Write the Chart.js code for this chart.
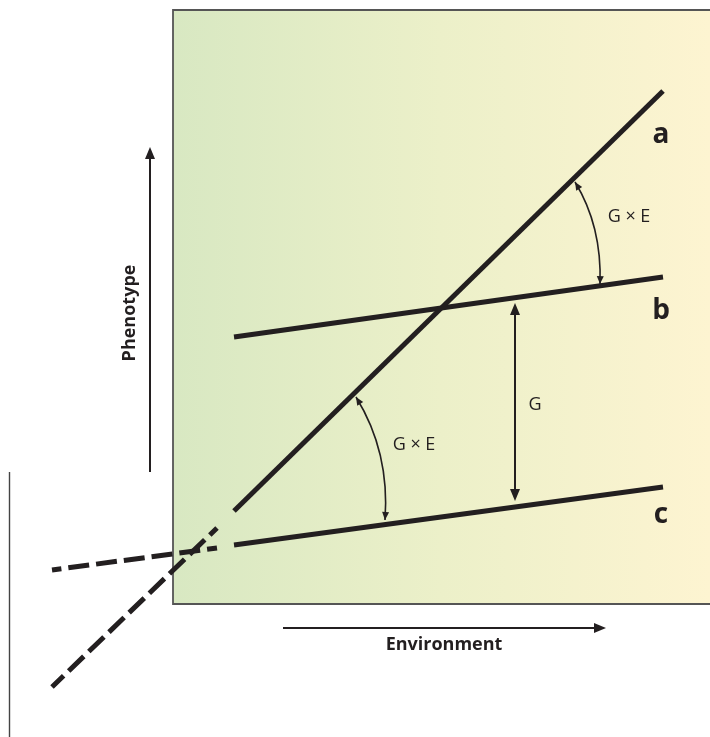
<!DOCTYPE html>
<html>
<head>
<meta charset="utf-8">
<script src="https://cdn.jsdelivr.net/npm/chart.js@4.4.1/dist/chart.umd.min.js"></script>
<style>
  html, body { margin: 0; padding: 0; background: #fff; }
  canvas { display: block; }
</style>
</head>
<body>
<canvas id="gxe" width="710" height="737"></canvas>
<script>
// Reaction norms: environment (x) vs phenotype (y)
const genotypes     = ['a', 'b', 'c'];
const envObserved   = [23.4, 66.3];
const phenoA        = [22.6, 64.6];
const phenoB        = [40.0, 46.0];
const phenoC        = [19.2, 25.0];
// dashed extrapolation outside the observed range (inner end first)
const envExtrap     = [21.7, 5.2];
const phenoAExtrap  = [20.9, 5.0];
const phenoCExtrap  = [18.9, 16.7];

const INK = '#231f20';

function pts(xs, ys) { return xs.map((x, i) => ({ x, y: ys[i] })); }

function lineSet(data, dashed) {
    return {
        data, showLine: true, borderColor: INK, borderWidth: 5,
        borderDash: dashed ? [21, 7] : [], borderDashOffset: dashed ? 11 : 0,
        borderCapStyle: 'butt',
        pointRadius: 0, pointHoverRadius: 0, clip: false, tension: 0
    };
}

// ── background box, arrows, arcs and text ─────────────────────────────
const figurePlugin = {
    id: 'figure',
    beforeDatasetsDraw(chart) {
        const { ctx, scales: { x, y } } = chart;
        const X = v => x.getPixelForValue(v), Y = v => y.getPixelForValue(v);
        const l = X(17.3), r = X(71.2), t = Y(72.7), b = Y(13.3);
        const g = ctx.createLinearGradient(l, 0, X(71), 0);
        g.addColorStop(0, '#d8e8c2');
        g.addColorStop(0.5, '#ecf0c9');
        g.addColorStop(1, '#fdf4d1');
        ctx.save();
        ctx.fillStyle = g;
        ctx.fillRect(l, t, r - l, b - t);
        ctx.strokeStyle = '#555';
        ctx.lineWidth = 1.8;
        ctx.beginPath();
        ctx.moveTo(r, t); ctx.lineTo(l, t); ctx.lineTo(l, b); ctx.lineTo(r, b);
        ctx.stroke();
        // thin rule on the far left
        ctx.strokeStyle = '#444';
        ctx.lineWidth = 1.4;
        ctx.beginPath();
        ctx.moveTo(X(0.95), Y(26.5)); ctx.lineTo(X(0.95), Y(0));
        ctx.stroke();
        ctx.restore();
    },
    afterDatasetsDraw(chart) {
        const { ctx, scales: { x, y } } = chart;
        const P = (a, c) => [x.getPixelForValue(a), y.getPixelForValue(c)];

        function head(tip, from, len, half) {
            const ang = Math.atan2(tip[1] - from[1], tip[0] - from[0]);
            ctx.beginPath();
            ctx.moveTo(tip[0], tip[1]);
            ctx.lineTo(tip[0] - len * Math.cos(ang) + half * Math.sin(ang), tip[1] - len * Math.sin(ang) - half * Math.cos(ang));
            ctx.lineTo(tip[0] - len * Math.cos(ang) - half * Math.sin(ang), tip[1] - len * Math.sin(ang) + half * Math.cos(ang));
            ctx.closePath();
            ctx.fill();
        }
        function arrow(p0, p1, both) {
            const ang = Math.atan2(p1[1] - p0[1], p1[0] - p0[0]);
            const s = both ? [p0[0] + 8 * Math.cos(ang), p0[1] + 8 * Math.sin(ang)] : p0;
            const e = [p1[0] - 8 * Math.cos(ang), p1[1] - 8 * Math.sin(ang)];
            ctx.lineWidth = 2;
            ctx.beginPath(); ctx.moveTo(s[0], s[1]); ctx.lineTo(e[0], e[1]); ctx.stroke();
            head(p1, p0, 12, 5);
            if (both) head(p0, p1, 12, 5);
        }
        function arc(s, c, e) {
            ctx.lineWidth = 1.6;
            ctx.beginPath(); ctx.moveTo(s[0], s[1]); ctx.quadraticCurveTo(c[0], c[1], e[0], e[1]); ctx.stroke();
            head(s, c, 8, 3.5);
            head(e, c, 8, 3.5);
        }

        ctx.save();
        ctx.strokeStyle = INK;
        ctx.fillStyle = INK;

        arrow(P(15.0, 26.5), P(15.0, 59.0), false);          // Phenotype
        arrow(P(28.3, 10.9), P(60.6, 10.9), false);          // Environment
        arrow(P(51.5, 43.4), P(51.5, 23.6), true);           // G

        arc(P(57.5, 55.5), P(60.2, 51.1), P(60.0, 45.3));     // G x E, a vs b
        arc(P(35.6, 34.0), P(39.0, 28.5), P(38.5, 21.7));     // G x E, a vs c

        ctx.textAlign = 'center';
        ctx.textBaseline = 'middle';
        ctx.font = '18px "Open Sans", sans-serif';
        const gxe = 'G \u00d7 E';
        let p = P(62.9, 52.0); ctx.fillText(gxe, p[0], p[1]);
        p = P(41.4, 29.2); ctx.fillText(gxe, p[0], p[1]);
        p = P(53.5, 33.2); ctx.fillText('G', p[0], p[1]);

        ctx.font = 'bold 18px "Open Sans", sans-serif';
        p = P(44.4, 9.2); ctx.fillText('Environment', p[0], p[1]);
        p = P(13.0, 42.4);
        ctx.save();
        ctx.translate(p[0], p[1]); ctx.rotate(-Math.PI / 2);
        ctx.fillText('Phenotype', 0, 0);
        ctx.restore();

        ctx.font = 'bold 28px "Open Sans", sans-serif';
        ctx.textBaseline = 'alphabetic';
        const labelY = [59.4, 41.8, 21.4];
        genotypes.forEach((g, i) => {
            const q = P(66.1, labelY[i]);
            ctx.fillText(g, q[0], q[1]);
        });
        ctx.restore();
    }
};

new Chart(document.getElementById('gxe'), {
    type: 'scatter',
    data: {
        datasets: [
            lineSet(pts(envExtrap, phenoAExtrap), true),
            lineSet(pts(envExtrap, phenoCExtrap), true),
            lineSet(pts(envObserved, phenoA), false),
            lineSet(pts(envObserved, phenoB), false),
            lineSet(pts(envObserved, phenoC), false)
        ]
    },
    options: {
        responsive: false,
        animation: false,
        events: [],
        layout: { padding: 0 },
        plugins: { legend: { display: false }, tooltip: { enabled: false } },
        scales: {
            x: { type: 'linear', min: 0, max: 71, display: false },
            y: { type: 'linear', min: 0, max: 73.7, display: false }
        }
    },
    plugins: [figurePlugin]
});
</script>
</body>
</html>
